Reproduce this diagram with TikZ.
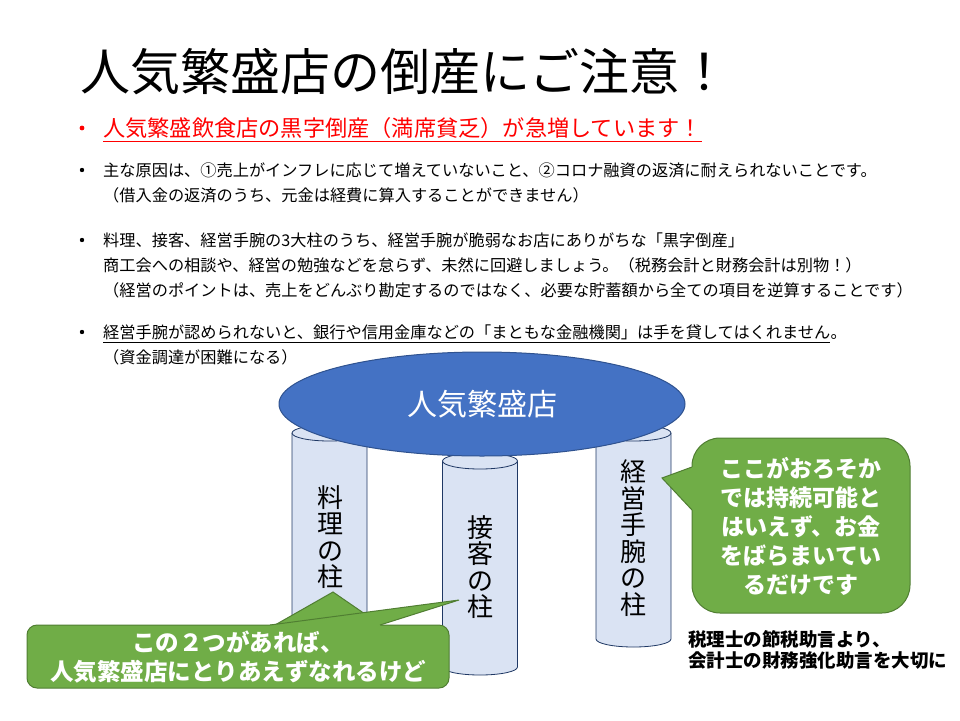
\documentclass[tikz,border=0pt]{standalone}
\usepackage{fontspec}
\setmainfont{Noto Sans CJK JP}
\usetikzlibrary{shapes.geometric,positioning}
\definecolor{storeblue}{HTML}{4472C4}
\definecolor{storeedge}{HTML}{2F528F}
\definecolor{pillarfill}{HTML}{DAE3F3}
\definecolor{pillaredge}{HTML}{1F3864}
\definecolor{notegreen}{HTML}{70AD47}
\definecolor{noteedge}{HTML}{507E32}
\newcommand{\fs}[2]{\fontsize{#1}{#2}\selectfont}
\tikzset{
  bodytext/.style={anchor=west, inner sep=0pt, font=\fs{16.2}{20}},
  pillar/.style={fill=pillarfill, draw=pillaredge, line width=0.8pt},
  pillartext/.style={align=center, font=\fs{26}{26.5}},
  callout/.style={fill=notegreen, draw=noteedge, line width=1pt},
  callouttext/.style={align=center, text=white, font=\bfseries\fs{23.5}{29}},
}
\begin{document}
\begin{tikzpicture}[x=1pt, y=-1pt]
  \useasboundingbox (0,0) rectangle (960,720);
  % Title
  \node[anchor=west, inner sep=0pt, font=\fs{50}{50}] (title) at (80,72) {人気繁盛店の倒産にご注意！};
  % Bullets
  \fill[red] (82,128) circle (2.4);
  \foreach \y in {170,240,332} {
    \fill (82,\y) circle (2.2);
  }
  \node[bodytext, text=red, font=\fs{22.2}{26}] (head) at (103,128) {人気繁盛飲食店の黒字倒産（満席貧乏）が急増しています！};
  \draw[red, line width=1.2pt] ([yshift=-5pt]head.base west) -- ([yshift=-5pt]head.base east);
  \node[bodytext] (cause) at (103,170) {主な原因は、①売上がインフレに応じて増えていないこと、②コロナ融資の返済に耐えられないことです。};
  \node[bodytext] (loan) at (103,195) {（借入金の返済のうち、元金は経費に算入することができません）};
  \node[bodytext] (skill) at (103,240) {料理、接客、経営手腕の3大柱のうち、経営手腕が脆弱なお店にありがちな「黒字倒産」};
  \node[bodytext] (study) at (103,265) {商工会への相談や、経営の勉強などを怠らず、未然に回避しましょう。（税務会計と財務会計は別物！）};
  \node[bodytext] (point) at (103,290) {（経営のポイントは、売上をどんぶり勘定するのではなく、必要な貯蓄額から全ての項目を逆算することです）};
  \node[bodytext] (bank) at (103,332) {経営手腕が認められないと、銀行や信用金庫などの「まともな金融機関」は手を貸してはくれません};
  \node[bodytext, anchor=base west] (bankend) at (bank.base east) {。};
  \draw[line width=0.7pt] ([yshift=-4pt]bank.base west) -- ([yshift=-4pt]bank.base east);
  \node[bodytext] (fund) at (103,357) {（資金調達が困難になる）};
  % Pillars
  \foreach \x/\t/\b in {329.5/433/640, 480/461/667, 633.5/433/639} {
    \draw[pillar] (\x-37.5,\t) -- (\x-37.5,\b) arc[start angle=180, end angle=0, x radius=37.5, y radius=8] -- (\x+37.5,\t);
    \draw[pillar] (\x,\t) ellipse[x radius=37.5, y radius=8];
  }
  % Roof
  \node[ellipse, fill=storeblue, draw=storeedge, line width=1pt, minimum width=406pt, minimum height=104pt,
        text=white, font=\fs{30}{30}] (store) at (482,404) {人気繁盛店};
  \node[pillartext] (ryori) at (330,537) {料\\理\\の\\柱};
  \node[pillartext] (sekkyaku) at (480,567) {接\\客\\の\\柱};
  \node[pillartext] (keiei) at (633,538) {経\\営\\手\\腕\\の\\柱};
  % Right balloon
  \draw[callout, rounded corners=28] (692,438) rectangle (910,613);
  \fill[notegreen] (692,467) -- (662,478) -- (692,510) -- (695,510) -- (695,467) -- cycle;
  \draw[noteedge, line width=1pt] (692,467) -- (662,478) -- (692,510);
  \node[callouttext, font=\bfseries\fs{23}{29}] (warn) at (801,526) {ここがおろそか\\では持続可能と\\はいえず、お金\\をばらまいてい\\るだけです};
  % Bottom balloon (two pointers)
  \draw[callout, rounded corners=10] (27,625) rectangle (449,688);
  \fill[notegreen] (275,625) -- (333,592) -- (381,625) -- (381,627) -- (275,627) -- cycle;
  \draw[noteedge, line width=1pt] (275,625) -- (333,592) -- (381,625);
  \fill[notegreen] (270,625) -- (459,600) -- (380,625) -- (380,627) -- (270,627) -- cycle;
  \draw[noteedge, line width=1pt] (270,625) -- (459,600) -- (380,625);
  \node[callouttext] (enough) at (238,657) {この２つがあれば、\\人気繁盛店にとりあえずなれるけど};
  % Note
  \node[anchor=west, align=left, inner sep=0pt, font=\bfseries\fs{18.5}{21}] (advice) at (688,650) {税理士の節税助言より、\\会計士の財務強化助言を大切に};
\end{tikzpicture}
\end{document}
